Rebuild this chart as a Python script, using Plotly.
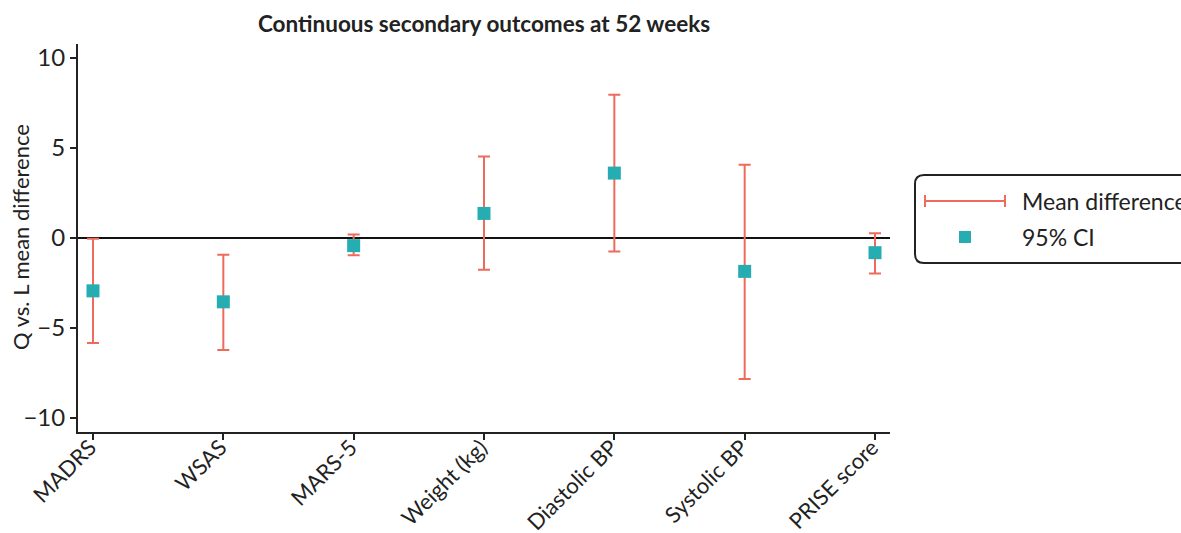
import plotly.graph_objects as go

# Outcome measures and their estimated Q vs. L mean differences with 95% CI
outcomes = ["MADRS", "WSAS", "MARS-5", "Weight (kg)", "Diastolic BP", "Systolic BP", "PRISE score"]
mean_diff = [-2.96, -3.57, -0.45, 1.34, 3.58, -1.88, -0.84]
ci_lower = [-5.85, -6.24, -0.99, -1.79, -0.78, -7.86, -1.99]
ci_upper = [-0.07, -0.95, 0.17, 4.50, 7.93, 4.04, 0.24]
y_ticks = [-10, -5, 0, 5, 10]

ERR_COLOR = "#EE6A5C"
PT_COLOR = "#26ADB1"
FONT = "Lato, 'Open Sans', sans-serif"

err_plus = [u - m for u, m in zip(ci_upper, mean_diff)]
err_minus = [m - l for m, l in zip(mean_diff, ci_lower)]

fig = go.Figure()
fig.add_trace(go.Scatter(
    x=outcomes, y=mean_diff, mode="markers",
    marker=dict(symbol="square", size=13, color=PT_COLOR),
    error_y=dict(type="data", symmetric=False, array=err_plus, arrayminus=err_minus,
                 color=ERR_COLOR, thickness=2, width=6),
    showlegend=False,
))

fig.update_layout(
    width=1181, height=533,
    margin=dict(l=78, r=291, t=44, b=101),
    paper_bgcolor="white", plot_bgcolor="white",
    font=dict(family=FONT, size=22, color="#222222"),
    title=dict(text="<b>Continuous secondary outcomes at 52 weeks</b>",
               x=0.5, xref="paper", y=0.955, yref="container",
               xanchor="center", yanchor="middle",
               font=dict(size=22.5, color="#222222")),
    xaxis=dict(range=[-0.115, 6.115], showline=True, linecolor="#222222", linewidth=2,
               ticks="outside", ticklen=6, tickwidth=2, tickcolor="#222222",
               tickangle=-45, showgrid=False, zeroline=False, automargin=False,
               ticklabelstandoff=-14, ticklabelshift=-3, tickfont=dict(size=22)),
    yaxis=dict(range=[-10.8, 10.75], tickvals=y_ticks, showline=True,
               linecolor="#222222", linewidth=2, ticks="outside", ticklen=6,
               tickwidth=2, tickcolor="#222222", showgrid=False, automargin=False,
               zeroline=True, zerolinecolor="#111111", zerolinewidth=2,
               tickfont=dict(size=24)),
)

# Legend panel drawn on paper coordinates (outside the plot area, right side)
def px_x(px):
    return (px - 78) / (1181 - 78 - 291)

def px_y(py):
    return (533 - 101 - py) / (533 - 44 - 101)

# Y-axis title
fig.add_annotation(text="Q vs. L mean difference", xref="paper", yref="paper",
                   x=px_x(20), y=px_y(237), xanchor="center", yanchor="middle",
                   textangle=-90, showarrow=False, font=dict(size=22, color="#222222"))

x0, x1, y0, y1, r = 915, 1200, 175, 263, 9
path = (
    f"M {px_x(x0 + r)},{px_y(y0)} L {px_x(x1 - r)},{px_y(y0)} "
    f"Q {px_x(x1)},{px_y(y0)} {px_x(x1)},{px_y(y0 + r)} "
    f"L {px_x(x1)},{px_y(y1 - r)} Q {px_x(x1)},{px_y(y1)} {px_x(x1 - r)},{px_y(y1)} "
    f"L {px_x(x0 + r)},{px_y(y1)} Q {px_x(x0)},{px_y(y1)} {px_x(x0)},{px_y(y1 - r)} "
    f"L {px_x(x0)},{px_y(y0 + r)} Q {px_x(x0)},{px_y(y0)} {px_x(x0 + r)},{px_y(y0)} Z"
)
fig.add_shape(type="path", path=path, xref="paper", yref="paper",
              line=dict(color="#222222", width=2), fillcolor="white", layer="above")

# Error-bar legend glyph
ly = 201
fig.add_shape(type="line", xref="paper", yref="paper",
              x0=px_x(925), x1=px_x(1005), y0=px_y(ly), y1=px_y(ly),
              line=dict(color=ERR_COLOR, width=2), layer="above")
for cx in (925, 1005):
    fig.add_shape(type="line", xref="paper", yref="paper",
                  x0=px_x(cx), x1=px_x(cx), y0=px_y(ly - 6), y1=px_y(ly + 6),
                  line=dict(color=ERR_COLOR, width=2), layer="above")

# Square legend glyph
sy = 237
fig.add_shape(type="rect", xref="paper", yref="paper",
              x0=px_x(959), x1=px_x(971), y0=px_y(sy - 6), y1=px_y(sy + 6),
              line=dict(width=0), fillcolor=PT_COLOR, layer="above")

for text, ty in (("Mean difference", ly), ("95% CI", sy)):
    fig.add_annotation(text=text, xref="paper", yref="paper",
                       x=px_x(1020), y=px_y(ty), xanchor="left", yanchor="middle",
                       showarrow=False, font=dict(size=23, color="#222222"))

fig.write_html("out.html")
